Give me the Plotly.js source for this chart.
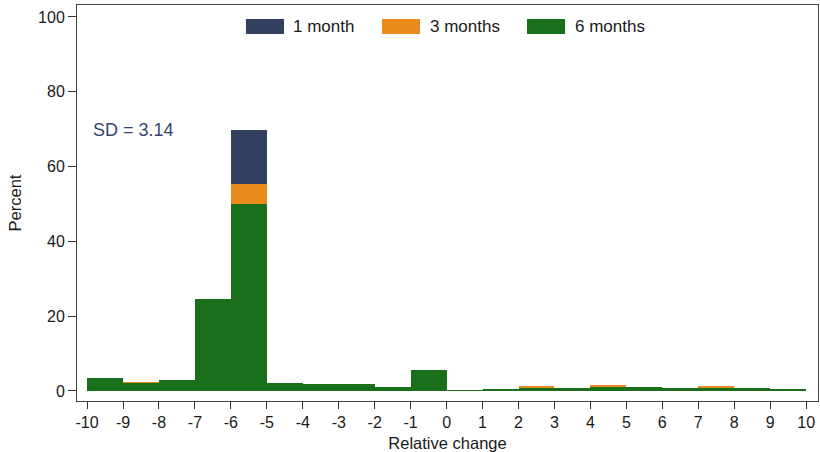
<!DOCTYPE html>
<html>
<head>
<meta charset="utf-8">
<script src="https://cdn.plot.ly/plotly-3.0.1.min.js"></script>
<style>
  html, body { margin: 0; padding: 0; background: #fff; }
  #chart { width: 820px; height: 452px; }
</style>
</head>
<body>
<div id="chart"></div>
<script>
// Bin left edges of the relative-change histogram (width 1)
const binStarts = [-10, -9, -8, -7, -6, -5, -4, -3, -2, -1, 0, 1, 2, 3, 4, 5, 6, 7, 8, 9];

// Percent of observations per bin, by follow-up horizon
const oneMonth   = [3.4, 2.2, 2.9, 24.5, 69.8, 2.1, 1.8, 1.8, 1.0, 5.6, 0.2, 0.6, 0.85, 0.85, 1.0, 1.1, 0.7, 0.85, 0.8, 0.5];
const threeMonth = [3.4, 2.5, 2.9, 24.5, 55.3, 2.1, 1.8, 1.8, 1.0, 5.6, 0.2, 0.6, 1.2, 0.85, 1.5, 1.1, 0.7, 1.2, 0.8, 0.5];
const sixMonth   = [3.4, 2.2, 2.9, 24.5, 50.0, 2.1, 1.8, 1.8, 1.0, 5.6, 0.2, 0.6, 0.85, 0.85, 1.0, 1.1, 0.7, 0.85, 0.8, 0.5];

const seriesNames = ['1 month', '3 months', '6 months'];
const seriesColors = ['#33405f', '#e88a1c', '#1a6f1a'];
const seriesValues = [oneMonth, threeMonth, sixMonth];

const xTicks = [-10, -9, -8, -7, -6, -5, -4, -3, -2, -1, 0, 1, 2, 3, 4, 5, 6, 7, 8, 9, 10];
const yTicks = [0, 20, 40, 60, 80, 100];

const sdLabel = 'SD = 3.14';

const centers = binStarts.map(b => b + 0.5);

const traces = seriesValues.map((vals, i) => ({
  type: 'bar',
  name: seriesNames[i],
  x: centers,
  y: vals,
  width: 1,
  marker: { color: seriesColors[i], line: { width: 0 } },
  showlegend: false,
  hoverinfo: 'skip'
}));

// Legend drawn as swatches + labels across the top of the plot area
const legendSwatchX = [[0.228, 0.2794], [0.4116, 0.4629], [0.6073, 0.6586]];
const legendTextX = [0.2888, 0.4737, 0.6694];
const shapes = [];
const annotations = [];
seriesNames.forEach((name, i) => {
  shapes.push({
    type: 'rect', xref: 'paper', yref: 'paper',
    x0: legendSwatchX[i][0], x1: legendSwatchX[i][1], y0: 0.9268, y1: 0.9646,
    fillcolor: seriesColors[i], line: { width: 0 }
  });
  annotations.push({
    xref: 'paper', yref: 'paper', x: legendTextX[i], y: 0.9457,
    xanchor: 'left', yanchor: 'middle', showarrow: false,
    text: name, font: { family: 'Liberation Sans, Arial, sans-serif', size: 17, color: '#1a1a1a' }
  });
});
annotations.push({
  xref: 'x', yref: 'y', x: -9.9, y: 69.8,
  xanchor: 'left', yanchor: 'middle', showarrow: false,
  text: sdLabel, font: { family: 'Liberation Sans, Arial, sans-serif', size: 18, color: '#34466e' }
});

const layout = {
  width: 820, height: 452,
  margin: { l: 77, r: 2, t: 5, b: 51 },
  paper_bgcolor: '#ffffff',
  plot_bgcolor: '#ffffff',
  barmode: 'overlay',
  bargap: 0,
  font: { family: 'Liberation Sans, Arial, sans-serif', size: 16, color: '#1a1a1a' },
  xaxis: {
    range: [-10.28, 10.33],
    tickmode: 'array', tickvals: xTicks, ticktext: xTicks.map(String),
    ticks: 'outside', ticklen: 7, tickcolor: '#333', tickwidth: 1,
    showline: true, linecolor: '#444', linewidth: 1, mirror: true,
    showgrid: false, zeroline: false,
    tickfont: { size: 16 },
    title: { text: 'Relative change', font: { size: 16.5 }, standoff: 7 }
  },
  yaxis: {
    range: [-2.7, 103.2],
    tickmode: 'array', tickvals: yTicks, ticktext: yTicks.map(String),
    ticks: 'outside', ticklen: 8, tickcolor: '#333', tickwidth: 1,
    showline: true, linecolor: '#444', linewidth: 1, mirror: true,
    showgrid: false, zeroline: false,
    tickfont: { size: 16 },
    title: { text: 'Percent', font: { size: 16.5 }, standoff: 12 }
  },
  shapes: shapes,
  annotations: annotations
};

Plotly.newPlot('chart', traces, layout, { staticPlot: true, displayModeBar: false });
</script>
</body>
</html>
